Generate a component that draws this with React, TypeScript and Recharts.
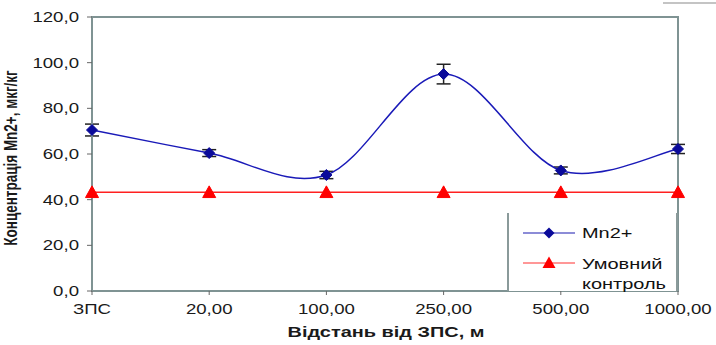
import React from 'react';
import {
  LineChart, Line, XAxis, YAxis, ErrorBar, ReferenceArea,
} from 'recharts';

const categories = ['ЗПС', '20,00', '100,00', '250,00', '500,00', '1000,00'];
const mnValues = [70.5, 60.4, 50.8, 95.0, 52.8, 62.2];
const mnErrors = [2.6, 1.5, 1.6, 4.3, 1.5, 2.0];
const controlValues = [43.2, 43.2, 43.2, 43.2, 43.2, 43.2];
const yTicks = [0, 20, 40, 60, 80, 100, 120];

const data = categories.map((c, i) => ({
  name: c,
  mn: mnValues[i],
  err: mnErrors[i],
  control: controlValues[i],
}));

const FONT = 'Arial, "Liberation Sans", sans-serif';
const AXIS_GRAY = '#7f9393';
const TEXT = '#1a1a1a';
const SX = 1.33; // the original picture is stretched horizontally

// Excel-style smoothed line (Catmull-Rom as cubic bezier)
const smoothCurve = (context: any) => {
  let pts: [number, number][] = [];
  return {
    areaStart() {},
    areaEnd() {},
    lineStart() { pts = []; },
    point(x: number, y: number) { pts.push([+x, +y]); },
    lineEnd() {
      if (!pts.length) return;
      context.moveTo(pts[0][0], pts[0][1]);
      for (let i = 0; i < pts.length - 1; i++) {
        const p0 = pts[Math.max(0, i - 1)];
        const p1 = pts[i];
        const p2 = pts[i + 1];
        const p3 = pts[Math.min(pts.length - 1, i + 2)];
        const c1x = p1[0] + (p2[0] - p0[0]) / 6;
        const c1y = p1[1] + (p2[1] - p0[1]) / 6;
        const c2x = p2[0] - (p3[0] - p1[0]) / 6;
        const c2y = p2[1] - (p3[1] - p1[1]) / 6;
        context.bezierCurveTo(c1x, c1y, c2x, c2y, p2[0], p2[1]);
      }
    },
  };
};

const Diamond = (props: any) => {
  const { cx, cy } = props;
  if (cx == null || cy == null) return null;
  const r = 5.5;
  return (
    <path
      d={`M${cx},${cy - r}L${cx + r},${cy}L${cx},${cy + r}L${cx - r},${cy}Z`}
      fill="#0a0a9a"
      stroke="#0a0a9a"
    />
  );
};

const Triangle = (props: any) => {
  const { cx, cy } = props;
  if (cx == null || cy == null) return null;
  const r = 6.5;
  return (
    <path
      d={`M${cx},${cy - r}L${cx + r},${cy + r * 0.8}L${cx - r},${cy + r * 0.8}Z`}
      fill="#ff0000"
      stroke="#ff0000"
    />
  );
};

const XTick = (props: any) => {
  const { x, y, payload } = props;
  return (
    <text
      transform={`translate(${x},${y + 17}) scale(${SX},1)`}
      textAnchor="middle"
      fontSize={14}
      fontFamily={FONT}
      fill={TEXT}
    >
      {payload.value}
    </text>
  );
};

const YTick = (props: any) => {
  const { x, y, payload } = props;
  return (
    <text
      transform={`translate(${x - 6},${y + 5}) scale(${SX},1)`}
      textAnchor="end"
      fontSize={14}
      fontFamily={FONT}
      fill={TEXT}
    >
      {payload.value.toFixed(1).replace('.', ',')}
    </text>
  );
};

const XTitle = () => (
  <text
    transform={`translate(386,337) scale(${SX},1)`}
    textAnchor="middle"
    fontSize={15}
    fontWeight="bold"
    fontFamily={FONT}
    fill={TEXT}
  >
    Відстань від ЗПС, м
  </text>
);

const YTitle = () => (
  <text
    transform={`translate(17,158) scale(${SX},1) rotate(-90)`}
    textAnchor="middle"
    fontSize={13.5}
    fontWeight="bold"
    fontFamily={FONT}
    fill={TEXT}
  >
    Концентрація Mn2+, мкг/кг
  </text>
);

const legendText = (top: number, label: string) => (
  <div
    style={{
      position: 'absolute',
      left: 73,
      top,
      transform: `scaleX(${SX})`,
      transformOrigin: 'left top',
      whiteSpace: 'nowrap',
    }}
  >
    {label}
  </div>
);

const LegendBox = () => (
  <div
    style={{
      position: 'absolute',
      left: 507,
      top: 213,
      width: 167,
      height: 78,
      borderLeft: '2px solid #8a9a9a',
      borderRight: '2px solid #8a9a9a',
      background: '#fff',
      fontFamily: FONT,
      fontSize: 15,
      color: '#111',
    }}
  >
    <svg width={70} height={78} style={{ position: 'absolute', left: 0, top: 0 }}>
      <line x1={14} x2={66} y1={20} y2={20} stroke="#1a1ab0" strokeWidth={1.2} />
      <path d="M40,14.5L45.5,20L40,25.5L34.5,20Z" fill="#0a0a9a" />
      <line x1={14} x2={66} y1={50} y2={50} stroke="#ff3030" strokeWidth={1.2} />
      <path d="M40,43.5L46.5,55L33.5,55Z" fill="#ff0000" />
    </svg>
    {legendText(11, 'Mn2+')}
    {legendText(42, 'Умовний')}
    {legendText(62, 'контроль')}
  </div>
);

export default function App() {
  return (
    <div style={{ position: 'absolute', left: 0, top: 0, width: 716, height: 345, background: '#fff' }}>
      <div style={{ position: 'absolute', left: 663, top: 2, width: 53, height: 2, background: '#c4c4c4' }} />
      <LineChart
        width={716}
        height={345}
        data={data}
        margin={{ top: 17, right: 38, left: 0, bottom: 0 }}
      >
        <ReferenceArea y1={0} y2={120} fill="none" stroke={AXIS_GRAY} strokeWidth={2} ifOverflow="visible" />
        <XAxis
          dataKey="name"
          height={54}
          tickSize={4}
          axisLine={{ stroke: AXIS_GRAY, strokeWidth: 2 }}
          tickLine={{ stroke: '#666' }}
          tick={<XTick />}
          interval={0}
          label={<XTitle />}
        />
        <YAxis
          width={92}
          domain={[0, 120]}
          ticks={yTicks}
          tickSize={5}
          axisLine={{ stroke: AXIS_GRAY, strokeWidth: 2 }}
          tickLine={{ stroke: '#666' }}
          tick={<YTick />}
          label={<YTitle />}
        />
        <Line
          dataKey="control"
          stroke="#ff2020"
          strokeWidth={1.5}
          type="linear"
          dot={<Triangle />}
          activeDot={false}
          isAnimationActive={false}
        />
        <Line
          dataKey="mn"
          stroke="#1a1ab8"
          strokeWidth={1.5}
          type={smoothCurve as any}
          dot={<Diamond />}
          activeDot={false}
          isAnimationActive={false}
        >
          <ErrorBar dataKey="err" width={7} stroke="#222" strokeWidth={1.5} direction="y" />
        </Line>
      </LineChart>
      <LegendBox />
    </div>
  );
}
